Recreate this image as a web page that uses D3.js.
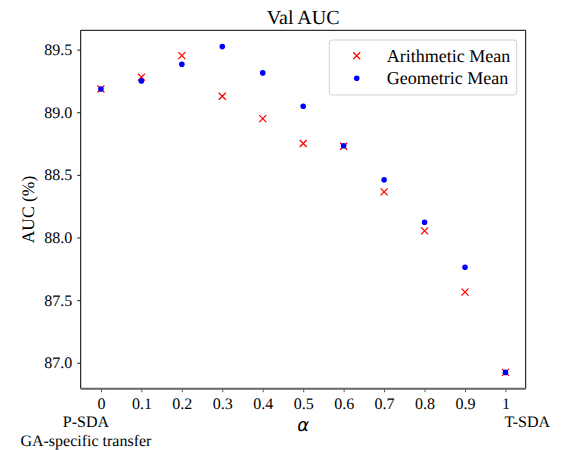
<!DOCTYPE html>
<html>
<head>
<meta charset="utf-8">
<script src="https://cdn.jsdelivr.net/npm/d3@7"></script>
<style>
  body { margin: 0; background: #fff; }
  svg text { text-rendering: geometricPrecision; }
</style>
</head>
<body>
<div id="chart"></div>
<script>
// data
const alphas = [0, 0.1, 0.2, 0.3, 0.4, 0.5, 0.6, 0.7, 0.8, 0.9, 1];
const arithmeticMean = [89.186, 89.28, 89.452, 89.128, 88.949, 88.75, 88.728, 88.364, 88.053, 87.564, 86.923];
const geometricMean = [89.186, 89.25, 89.383, 89.524, 89.314, 89.048, 88.733, 88.46, 88.122, 87.763, 86.923];
const xTickLabels = ["0", "0.1", "0.2", "0.3", "0.4", "0.5", "0.6", "0.7", "0.8", "0.9", "1"];
const yTicks = [87.0, 87.5, 88.0, 88.5, 89.0, 89.5];
const seriesNames = ["Arithmetic Mean", "Geometric Mean"];

const SERIF = "'Liberation Serif', 'Times New Roman', serif";
const W = 566, H = 450;
const margin = { top: 30.3, right: 40.3, bottom: 61.3, left: 80.7 };
const width = W - margin.left - margin.right;
const height = H - margin.top - margin.bottom;

const svg = d3.select("#chart").append("svg")
    .attr("width", W)
    .attr("height", H)
    .attr("font-family", SERIF);

const g = svg.append("g")
    .attr("transform", "translate(" + margin.left + "," + margin.top + ")");

// matplotlib style 5% padding
const x = d3.scaleLinear().domain([-0.05, 1.05]).range([0, width]);
const yMin = 86.923, yMax = 89.524, pad = (yMax - yMin) * 0.05;
const y = d3.scaleLinear().domain([yMin - pad, yMax + pad]).range([height, 0]);

// x axis
const xAxis = g.append("g")
    .attr("transform", "translate(0," + height + ")")
    .call(d3.axisBottom(x).tickValues(alphas).tickSize(3.5).tickPadding(5)
        .tickFormat((d, i) => xTickLabels[i]))
    .attr("font-family", SERIF)
    .attr("font-size", 16);
xAxis.select(".domain").remove();
xAxis.selectAll(".tick line").attr("stroke", "#444").attr("stroke-width", 0.9);
xAxis.selectAll(".tick text").attr("fill", "#000");

// y axis
const yAxis = g.append("g")
    .call(d3.axisLeft(y).tickValues(yTicks).tickSize(3.5).tickPadding(5)
        .tickFormat(d3.format(".1f")))
    .attr("font-family", SERIF)
    .attr("font-size", 16);
yAxis.select(".domain").remove();
yAxis.selectAll(".tick line").attr("stroke", "#000").attr("stroke-width", 0.9);
yAxis.selectAll(".tick text").attr("fill", "#000");

// frame
g.append("line").attr("x1", 0).attr("x2", 0).attr("y1", 0).attr("y2", height)
    .attr("stroke", "#000").attr("stroke-width", 1);
g.append("line").attr("x1", width).attr("x2", width).attr("y1", 0).attr("y2", height)
    .attr("stroke", "#000").attr("stroke-width", 1);
g.append("line").attr("x1", 0).attr("x2", width).attr("y1", 0).attr("y2", 0)
    .attr("stroke", "#000").attr("stroke-width", 1);
g.append("line").attr("x1", 0).attr("x2", width).attr("y1", height).attr("y2", height)
    .attr("stroke", "#666").attr("stroke-width", 2);

// arithmetic mean: red x markers
const xs = 3.5;
const crossPath = "M" + (-xs) + "," + (-xs) + "L" + xs + "," + xs + "M" + (-xs) + "," + xs + "L" + xs + "," + (-xs);
const amData = alphas.map((a, i) => [a, arithmeticMean[i]]);
g.selectAll(".am").data(amData).enter().append("path")
    .attr("class", "am")
    .attr("transform", d => "translate(" + x(d[0]) + "," + y(d[1]) + ")")
    .attr("d", crossPath)
    .attr("stroke", "#ff0000")
    .attr("stroke-width", 1.3)
    .attr("fill", "none");

// geometric mean: blue dots
const gmData = alphas.map((a, i) => [a, geometricMean[i]]);
g.selectAll(".gm").data(gmData).enter().append("circle")
    .attr("class", "gm")
    .attr("cx", d => x(d[0]))
    .attr("cy", d => y(d[1]))
    .attr("r", 2.8)
    .attr("fill", "#0000ff");

// title
svg.append("text")
    .attr("x", margin.left + width / 2)
    .attr("y", 24)
    .attr("text-anchor", "middle")
    .attr("font-size", 20)
    .text("Val AUC");

// axis labels
svg.append("text")
    .attr("transform", "translate(34," + (margin.top + height / 2) + ")rotate(-90)")
    .attr("text-anchor", "middle")
    .attr("font-size", 17.5)
    .text("AUC (%)");

svg.append("text")
    .attr("x", margin.left + width / 2)
    .attr("y", 431)
    .attr("text-anchor", "middle")
    .attr("font-family", "'DejaVu Sans'")
    .attr("font-style", "italic")
    .attr("font-size", 18)
    .text("\u03b1");

// end-point annotations
svg.append("text")
    .attr("x", margin.left + x(0) - 15)
    .attr("y", 427)
    .attr("text-anchor", "middle")
    .attr("font-size", 16)
    .text("P-SDA");
svg.append("text")
    .attr("x", margin.left + x(0) - 15)
    .attr("y", 446)
    .attr("text-anchor", "middle")
    .attr("font-size", 16)
    .text("GA-specific transfer");
svg.append("text")
    .attr("x", margin.left + x(1) - 1)
    .attr("y", 427)
    .attr("text-anchor", "start")
    .attr("font-size", 16)
    .text("T-SDA");

// legend
const legend = svg.append("g").attr("transform", "translate(329.3,40)");
legend.append("rect")
    .attr("width", 187.4).attr("height", 55)
    .attr("rx", 3).attr("ry", 3)
    .attr("fill", "#fff").attr("fill-opacity", 0.8)
    .attr("stroke", "#d0d0d0").attr("stroke-width", 1);

legend.append("path")
    .attr("transform", "translate(27.4,15.7)")
    .attr("d", crossPath)
    .attr("stroke", "#ff0000").attr("stroke-width", 1.3).attr("fill", "none");
legend.append("circle")
    .attr("cx", 27.4).attr("cy", 38.3).attr("r", 2.8)
    .attr("fill", "#0000ff");

legend.selectAll(".lt").data(seriesNames).enter().append("text")
    .attr("class", "lt")
    .attr("x", 57.4)
    .attr("y", (d, i) => 21.5 + i * 22.6)
    .attr("font-size", 18)
    .text(d => d);
</script>
</body>
</html>
